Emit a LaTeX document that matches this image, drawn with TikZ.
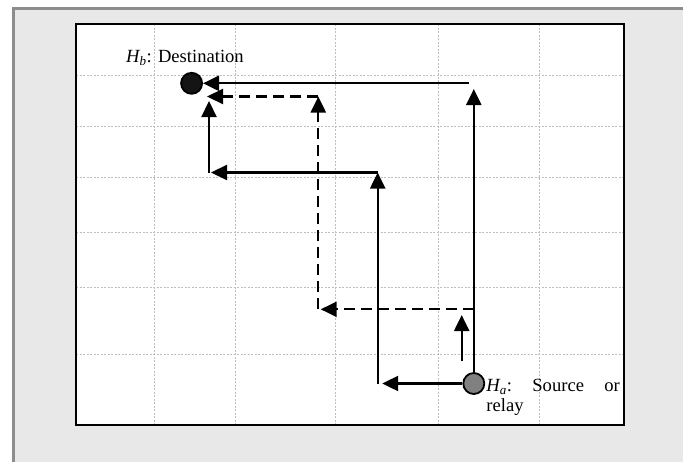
\documentclass[tikz,border=0pt]{standalone}
\usepackage{fontspec}
\setmainfont{Liberation Serif}
\usetikzlibrary{arrows.meta,positioning}
\definecolor{panelgray}{HTML}{E8E8E8}
\definecolor{framegray}{HTML}{8C8C8C}
\definecolor{gridgray}{HTML}{BEBEBE}
\tikzset{
  host/.style={circle,draw,line width=1.8pt,minimum size=21pt,inner sep=0pt},
  path/.style={line width=2.2pt,-{Triangle[length=16pt,width=15pt]}},
  dpath/.style={path,dash pattern=on 11pt off 6pt},
  gridline/.style={gridgray,line width=0.7pt,dash pattern=on 2pt off 1.5pt},
  lbl/.style={font=\fontsize{18.6}{20.3}\selectfont,inner sep=0pt}
}
\begin{document}
\begin{tikzpicture}[x=1pt,y=-1pt]
    \useasboundingbox (0,0) rectangle (683,461);
    \fill[panelgray] (13.5,8.7) rectangle (690,470);
    \draw[framegray,line width=2.5pt] (13.5,470)--(13.5,8.7)--(690,8.7);
    \fill[white] (76,24) rectangle (623.5,425);
    \foreach \x in {154.6,235,335,438.6,539}
        \draw[gridline] (\x,24)--(\x,425);
    \foreach \y in {75.3,126,177,232.7,287,354.3}
        \draw[gridline] (76,\y)--(623.5,\y);
    \draw[line width=2pt] (76,24) rectangle (623.5,425);
    % hosts
    \node[host,fill=black!92] (Hb) at (191.6,83.3) {};
    \node[host,fill=black!50] (Ha) at (473.8,383.5) {};
    \node[lbl,anchor=base] (hblabel) at ([xshift=-6.6pt,yshift=9.3pt]Hb.north)
        {\textit{H\textsubscript{b}}: Destination};
    \node[lbl,anchor=base west,text width=133.5pt,align=left] (halabel) at ([xshift=1pt,yshift=-8pt]Ha.east)
        {\textit{H\textsubscript{a}}:\hfill Source\hfill or\\relay};
    % corners
    \coordinate (a1) at (473.8,89);
    \coordinate (a2) at (469,83.3);
    \coordinate (m1) at (377.7,383.5);
    \coordinate (m2) at (377.7,172.5);
    \coordinate (m3) at (209,172.5);
    \coordinate (m4) at (209,101);
    \coordinate (d1) at (473.8,309.3);
    \coordinate (d2) at (318.3,309.3);
    \coordinate (d3) at (318.3,96.5);
    \coordinate (d4) at (207,96.5);
    \coordinate (s1) at (461.7,361);
    \coordinate (s2) at (461.7,315);
    % solid routes
    \draw[path] (Ha.north)--(a1);
    \draw[path] (a2)--(Hb.east);
    \draw[path,shorten >=4.5pt] (Ha.west)--(m1);
    \draw[path] (m1)--(m2);
    \draw[path,shorten >=2pt] (m2)--(m3);
    \draw[path] (m3)--(m4);
    \draw[path] (s1)--(s2);
    % dashed route
    \draw[dpath,shorten >=2.4pt] (d1)--(d2);
    \draw[dpath] (d2)--(d3);
    \draw[dpath] (d3)--(d4);
\end{tikzpicture}
\end{document}
